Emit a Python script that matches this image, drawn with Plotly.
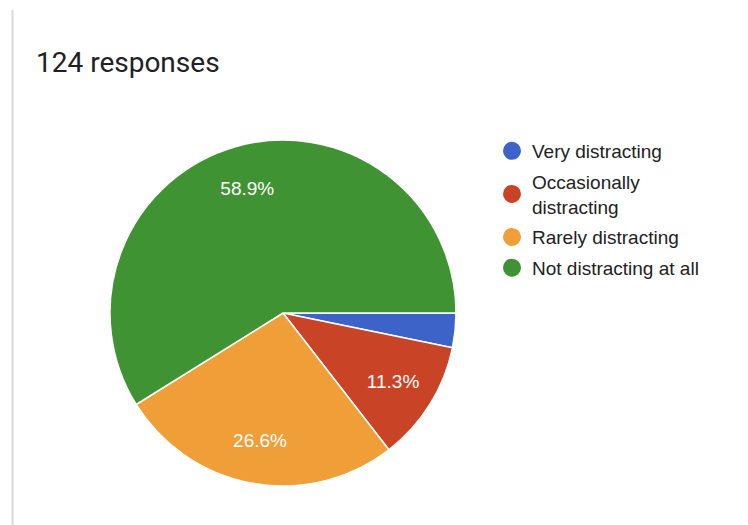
import plotly.graph_objects as go

categories = ["Very distracting", "Occasionally distracting", "Rarely distracting", "Not distracting at all"]
legend_names = ["Very distracting", "Occasionally<br>distracting", "Rarely distracting", "Not distracting at all"]
counts = [4, 14, 33, 73]
pct_labels = ["", "11.3%", "26.6%", "58.9%"]
colors = ["#3d63c9", "#c94426", "#ef9e38", "#3f9333"]
title_text = "124 responses"

W, H = 748, 525
cx, cy, r = 283, 313, 173
dom = dict(x=[(cx - r) / W, (cx + r) / W], y=[1 - (cy + r) / H, 1 - (cy - r) / H])
chart_font = "Liberation Sans, Arial, sans-serif"

fig = go.Figure()
fig.add_trace(go.Pie(
    labels=categories,
    values=counts,
    textinfo="none",
    marker=dict(colors=colors, line=dict(color="white", width=1.5)),
    sort=False,
    direction="clockwise",
    rotation=90,
    showlegend=False,
    hoverinfo="label+percent",
    domain=dom,
))
# transparent ring overlay used only to place the percentage labels
fig.add_trace(go.Pie(
    labels=categories,
    values=counts,
    text=pct_labels,
    textinfo="text",
    textposition="inside",
    insidetextorientation="horizontal",
    textfont=dict(color="white", size=19, family=chart_font),
    marker=dict(colors=["rgba(0,0,0,0)"] * len(counts), line=dict(width=0)),
    hole=0.5,
    sort=False,
    direction="clockwise",
    rotation=90,
    showlegend=False,
    hoverinfo="skip",
    domain=dom,
))

for i, (name, col) in enumerate(zip(legend_names, colors)):
    fig.add_trace(go.Scatter(
        x=[None], y=[None], mode="markers", name=name, legendgroup=f"g{i}",
        marker=dict(symbol="circle", size=16, color=col, line=dict(color=col, width=2)),
        showlegend=True,
    ))

fig.update_layout(
    width=W, height=H,
    margin=dict(l=0, r=0, t=0, b=0),
    paper_bgcolor="white", plot_bgcolor="white",
    font=dict(family=chart_font, color="#222222"),
    xaxis=dict(visible=False), yaxis=dict(visible=False),
    legend=dict(
        x=492 / W, y=1 - 132 / H, xanchor="left", yanchor="top",
        font=dict(size=19, color="#222222", family=chart_font),
        itemsizing="trace", tracegroupgap=3, bgcolor="rgba(0,0,0,0)",
    ),
    annotations=[dict(
        text=title_text, xref="paper", yref="paper",
        x=34 / W, y=1 - 62 / H, xanchor="left", yanchor="middle",
        showarrow=False, font=dict(size=28, color="#202124", family="Roboto"),
    )],
    shapes=[dict(
        type="line", xref="paper", yref="paper",
        x0=12.5 / W, x1=12.5 / W, y0=0, y1=1 - 10 / H,
        line=dict(color="#dadada", width=2),
    )],
)

fig.write_html("out.html")
